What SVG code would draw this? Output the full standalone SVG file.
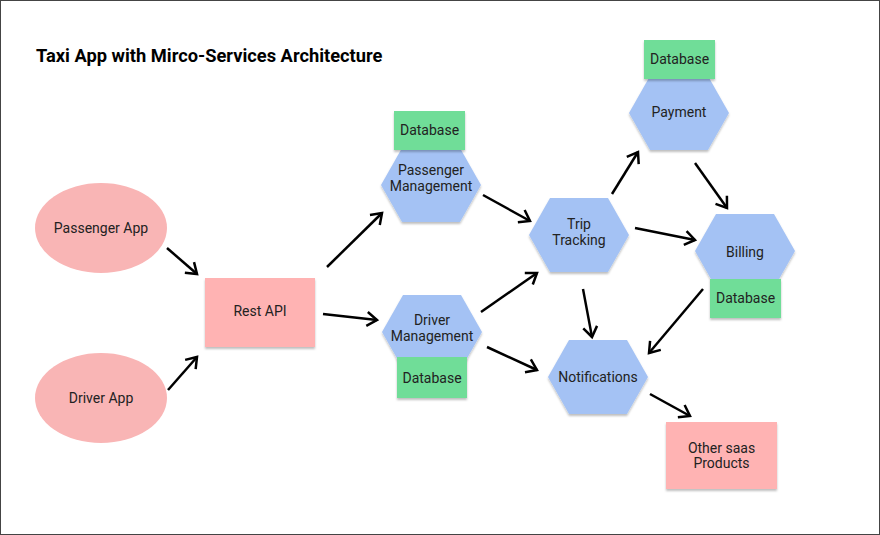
<svg xmlns="http://www.w3.org/2000/svg" xmlns:xlink="http://www.w3.org/1999/xlink" width="880" height="535" viewBox="0 0 880 535">
<defs>
<style>
.t{font-family:Roboto,"Liberation Sans",sans-serif;font-size:14px;fill:#222;text-anchor:middle}
.title{font-family:Roboto,"Liberation Sans",sans-serif;font-size:18.3px;font-weight:bold;fill:#000}
.hex{fill:#a4c2f4}
.db{fill:#6fdd98}
.pink{fill:#ffb3b3}
.ell{fill:#f9b5b5}
.c line{stroke:#000;stroke-width:2.5;marker-end:url(#arr)}
</style>
<filter id="sh" x="-10%" y="-10%" width="120%" height="130%">
<feDropShadow dx="0" dy="2" stdDeviation="1.2" flood-color="#000" flood-opacity="0.25"/>
</filter>
<polygon id="hx" points="-50,0 -29,-37 29,-37 50,0 29,37 -29,37"/>
<marker id="arr" markerUnits="userSpaceOnUse" markerWidth="14" markerHeight="16" refX="10" refY="7" orient="auto" overflow="visible">
<path d="M0,0 L10,7 L0,14" fill="none" stroke="#000" stroke-width="2.5"/>
</marker>
</defs>
<rect x="0.5" y="0.5" width="879" height="534" fill="#fff" stroke="#444" stroke-width="1"/>
<text class="title" x="36" y="62">Taxi App with Mirco-Services Architecture</text>

<g class="c" id="connectors">
<line x1="167" y1="248" x2="197" y2="274"/>
<line x1="168" y1="390" x2="197" y2="357"/>
<line x1="327" y1="267" x2="382" y2="213"/>
<line x1="323" y1="314" x2="377" y2="320"/>
<line x1="483" y1="195" x2="530" y2="221"/>
<line x1="481" y1="312" x2="537" y2="273"/>
<line x1="487" y1="347" x2="537" y2="370"/>
<line x1="612" y1="194" x2="638" y2="152"/>
<line x1="635" y1="228" x2="695" y2="240"/>
<line x1="583" y1="289" x2="592" y2="337"/>
<line x1="695" y1="163" x2="727" y2="208"/>
<line x1="703" y1="289" x2="649" y2="353"/>
<line x1="650" y1="394" x2="690" y2="416"/>
</g>

<g id="passenger-app">
<ellipse class="ell" cx="101" cy="228" rx="66" ry="45"/>
<text class="t" x="101" y="233">Passenger App</text>
</g>
<g id="driver-app">
<ellipse class="ell" cx="101" cy="398" rx="66" ry="45"/>
<text class="t" x="101" y="403">Driver App</text>
</g>
<g id="rest-api">
<rect class="pink" x="205" y="278" width="110" height="69" filter="url(#sh)"/>
<text class="t" x="260" y="316">Rest API</text>
</g>

<g id="passenger-management">
<use xlink:href="#hx" class="hex" x="431" y="185" filter="url(#sh)"/>
<text class="t" x="431" y="175">Passenger</text>
<text class="t" x="431" y="191">Management</text>
</g>
<g id="passenger-db">
<rect class="db" x="394" y="111" width="71" height="39" filter="url(#sh)"/>
<text class="t" x="429.5" y="135">Database</text>
</g>

<g id="driver-management">
<use xlink:href="#hx" class="hex" x="432" y="332" filter="url(#sh)"/>
<text class="t" x="432" y="325">Driver</text>
<text class="t" x="432" y="341">Management</text>
</g>
<g id="driver-db">
<rect class="db" x="397" y="357" width="70" height="41" filter="url(#sh)"/>
<text class="t" x="432" y="383">Database</text>
</g>

<g id="trip-tracking">
<use xlink:href="#hx" class="hex" x="579" y="235" filter="url(#sh)"/>
<text class="t" x="579" y="229">Trip</text>
<text class="t" x="579" y="245">Tracking</text>
</g>

<g id="payment">
<use xlink:href="#hx" class="hex" x="679" y="113" filter="url(#sh)"/>
<text class="t" x="679" y="117">Payment</text>
</g>
<g id="payment-db">
<rect class="db" x="644" y="40" width="71" height="39" filter="url(#sh)"/>
<text class="t" x="679.5" y="64">Database</text>
</g>

<g id="billing">
<use xlink:href="#hx" class="hex" x="745" y="251" filter="url(#sh)"/>
<text class="t" x="745" y="257">Billing</text>
</g>
<g id="billing-db">
<rect class="db" x="710" y="279" width="71" height="39" filter="url(#sh)"/>
<text class="t" x="745.5" y="303">Database</text>
</g>

<g id="notifications">
<use xlink:href="#hx" class="hex" x="598" y="377" filter="url(#sh)"/>
<text class="t" x="598" y="382">Notifications</text>
</g>

<g id="other-saas">
<rect class="pink" x="666" y="422" width="111" height="67" filter="url(#sh)"/>
<text class="t" x="721.5" y="453">Other saas</text>
<text class="t" x="721.5" y="468">Products</text>
</g>
</svg>
